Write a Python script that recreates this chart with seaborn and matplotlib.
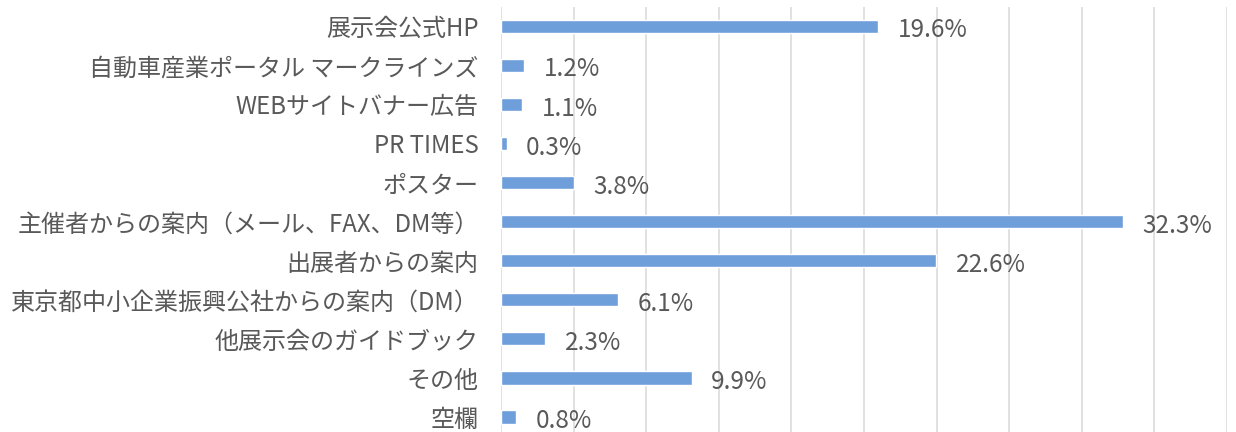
import numpy as np
import pandas as pd
import matplotlib
matplotlib.use("Agg")
import matplotlib.pyplot as plt
import seaborn as sns

# data (percent of respondents)
categories = [
    "展示会公式HP",
    "自動車産業ポータル マークラインズ",
    "WEBサイトバナー広告",
    "PR TIMES",
    "ポスター",
    "主催者からの案内（メール、FAX、DM等）",
    "出展者からの案内",
    "東京都中小企業振興公社からの案内（DM）",
    "他展示会のガイドブック",
    "その他",
    "空欄",
]
values = [19.6, 1.2, 1.1, 0.3, 3.8, 32.3, 22.6, 6.1, 2.3, 9.9, 0.8]

df = pd.DataFrame({"source": categories, "pct": values})

sns.set_theme(style="white")
plt.rcParams["font.family"] = ["Noto Sans CJK JP", "DejaVu Sans"]

BAR_COLOR = "#6E9FDB"
TEXT_COLOR = "#595959"
GRID_COLOR = "#D9D9D9"
X_MAX = 37.7

fig = plt.figure(figsize=(12.36, 4.32), dpi=100)
ax = fig.add_axes([0.4053, -0.0104, 0.5874, 0.995])

sns.barplot(data=df, x="pct", y="source", color=BAR_COLOR, width=0.34,
            saturation=1, ax=ax, zorder=3)

ax.set_xlim(0, X_MAX)
ax.set_ylim(len(categories) - 0.5, -0.5)
ax.set_xticks(np.linspace(0, X_MAX, 11))
ax.xaxis.grid(True, color=GRID_COLOR, linewidth=1.1, zorder=0)
ax.set_xticklabels([])
ax.tick_params(axis="x", length=0)
ax.tick_params(axis="y", length=0, labelsize=17.3, labelcolor=TEXT_COLOR, pad=16)
ax.set_xlabel("")
ax.set_ylabel("")
for side in ["top", "right", "bottom", "left"]:
    ax.spines[side].set_visible(False)

# value labels to the right of each bar
for i, v in enumerate(values):
    ax.annotate(f"{v:.1f}%", xy=(v, i), xytext=(14, -3), textcoords="offset points",
                va="center", ha="left", fontsize=17.5, color=TEXT_COLOR)

fig.savefig("out.png", dpi=100)
